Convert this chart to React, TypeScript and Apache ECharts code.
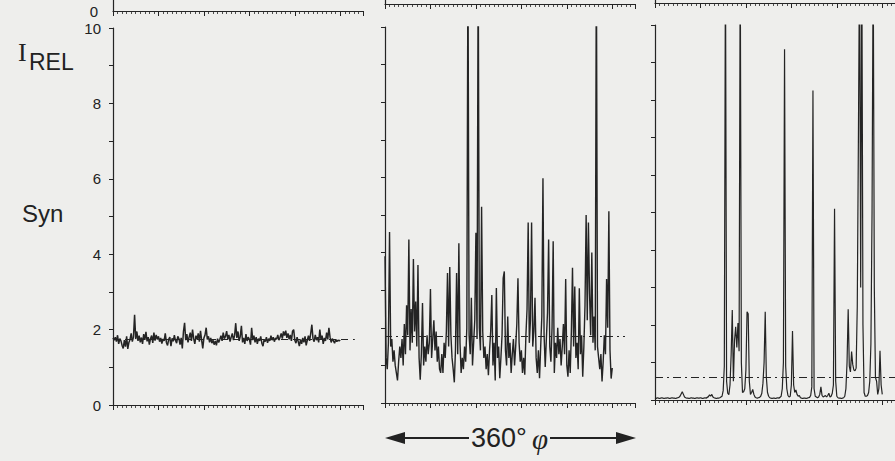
import React, { useEffect, useRef } from "react";
import * as echarts from "echarts";

// sampling step of the traces along the phi axis (axis units)
const STEP = 0.25;
const X_MAX = [55, 55, 52.8, 55, 55, 52.8];
const X_MAJOR = 10;
const Y_MAX = 10;
const Y_LABEL_STEP = 2;

// Panel 1 (left): I_REL trace
const PANEL1 = [
  1.78, 1.72, 1.80, 1.68, 1.85, 1.62, 1.76, 1.70, 1.58, 1.50,
  1.72, 1.55, 1.82, 1.49, 1.66, 1.74, 1.90, 1.68, 1.80, 2.39,
  1.75, 1.95, 1.70, 1.84, 1.66, 1.79, 1.62, 1.88, 1.73, 1.94,
  1.69, 1.80, 1.60, 1.76, 1.84, 1.65, 1.92, 1.71, 1.86, 1.74,
  1.82, 1.68, 1.78, 1.63, 1.75, 1.70, 1.90, 1.66, 1.58, 1.74,
  1.80, 1.56, 1.77, 1.69, 1.85, 1.71, 1.64, 1.82, 1.76, 1.60,
  1.78, 1.50, 1.95, 2.18, 1.72, 1.88, 1.66, 1.80, 1.92, 1.70,
  2.00, 1.76, 1.62, 1.84, 1.74, 1.90, 1.68, 1.97, 1.72, 1.50,
  1.78, 1.86, 2.05, 1.74, 1.82, 1.66, 1.78, 1.64, 1.72, 1.60,
  1.70, 1.58, 1.76, 1.66, 1.74, 1.84, 1.70, 1.92, 1.76, 1.82,
  1.96, 1.74, 1.86, 1.68, 1.80, 1.90, 1.72, 1.84, 2.17, 1.78,
  1.95, 1.70, 1.82, 2.10, 1.66, 1.78, 1.62, 1.88, 1.70, 1.80,
  1.74, 1.60, 2.05, 1.72, 1.84, 1.66, 1.80, 1.62, 1.76, 1.70,
  1.82, 1.64, 1.56, 1.74, 1.68, 1.80, 1.65, 1.76, 1.70, 1.84,
  1.72, 1.80, 1.68, 1.78, 1.74, 1.86, 1.72, 1.80, 1.90, 1.76,
  1.95, 1.84, 1.97, 1.78, 1.90, 1.74, 1.86, 1.70, 1.96, 2.00,
  1.72, 1.64, 1.80, 1.68, 1.56, 1.74, 1.62, 1.78, 1.66, 1.82,
  1.58, 1.72, 1.84, 1.70, 1.90, 2.13, 1.76, 1.68, 1.86, 1.72,
  1.80, 1.66, 2.00, 1.74, 1.84, 1.62, 1.78, 1.70, 1.92, 1.74,
  2.05, 1.80, 1.66, 1.76, 1.70, 1.64, 1.74, 1.68, 1.72, 1.70,
  1.72,
];

// Panel 2 (middle): spiky trace, values above 10 run off the top
const PANEL2 = [
  3.9, 1.2, 0.9, 1.6, 4.55, 1.5, 1.7, 1.1, 1.4, 1.0,
  0.8, 0.6, 1.1, 1.5, 1.2, 1.7, 1.0, 2.1, 1.3, 2.6,
  1.8, 4.35, 1.4, 2.5, 1.6, 3.83, 1.9, 2.7, 1.5, 3.67,
  1.2, 0.62, 1.3, 2.66, 1.0, 1.5, 1.1, 1.8, 1.3, 1.6,
  3.03, 1.2, 1.7, 2.2, 1.4, 1.9, 1.1, 1.5, 0.9, 0.8,
  1.3, 0.8, 1.6, 1.2, 1.9, 3.46, 1.5, 3.62, 1.8, 1.2,
  0.9, 0.55, 1.4, 3.46, 1.3, 4.25, 1.6, 0.8, 1.2, 0.9,
  1.5, 1.1, 2.0, 12, 1.8, 1.3, 2.8, 1.0, 1.6, 2.2,
  4.53, 1.7, 12, 2.0, 1.4, 5.22, 1.9, 1.2, 1.5, 0.9,
  1.3, 0.74, 1.4, 1.9, 2.87, 1.0, 1.6, 0.6, 3.06, 1.2,
  1.5, 0.66, 1.2, 1.8, 3.32, 3.5, 1.4, 1.0, 2.3, 1.2,
  1.6, 0.8, 1.3, 1.7, 1.0, 1.5, 2.1, 3.32, 1.6, 1.1,
  1.4, 0.8, 1.2, 0.75, 1.8, 2.5, 4.8, 1.6, 2.2, 4.8,
  1.5, 1.9, 2.8, 1.2, 0.8, 1.4, 0.66, 1.5, 2.3, 5.98,
  1.8, 0.96, 1.7, 2.4, 4.35, 1.5, 1.1, 2.0, 4.3, 0.8,
  1.6, 1.2, 2.0, 1.3, 1.7, 1.0, 1.5, 2.1, 1.3, 3.3,
  1.0, 0.7, 1.4, 0.8, 1.9, 3.6, 1.5, 3.1, 1.2, 1.6,
  0.9, 3.05, 1.3, 1.8, 0.7, 1.5, 2.6, 5.0, 2.2, 4.8,
  2.9, 1.8, 4.0, 1.6, 2.3, 1.4, 12, 1.5, 1.2, 0.9,
  1.3, 0.57, 1.1, 1.8, 1.3, 3.3, 2.0, 5.1, 1.4, 0.65,
  0.93,
];

// Panel 3 (right): low baseline with isolated peaks
const PANEL3 = [
  0.05, 0.04, 0.06, 0.05, 0.04, 0.05, 0.06, 0.05, 0.04, 0.05,
  0.05, 0.06, 0.05, 0.04, 0.05, 0.06, 0.05, 0.05, 0.04, 0.05,
  0.06, 0.07, 0.10, 0.16, 0.22, 0.15, 0.08, 0.06, 0.05, 0.05,
  0.04, 0.05, 0.06, 0.05, 0.05, 0.04, 0.05, 0.06, 0.05, 0.05,
  0.06, 0.05, 0.04, 0.05, 0.06, 0.05, 0.07, 0.09, 0.14, 0.10,
  0.15, 0.08, 0.06, 0.05, 0.04, 0.05, 0.05, 0.06, 0.08, 0.10,
  0.25, 0.90, 12, 0.50, 0.18, 0.14, 0.40, 1.20, 2.40, 0.50,
  1.60, 1.95, 1.40, 2.05, 1.30, 12, 1.00, 0.20, 0.22, 0.30,
  0.80, 2.35, 2.30, 0.50, 0.15, 0.20, 0.28, 0.15, 0.08, 0.06,
  0.05, 0.06, 0.07, 0.10, 0.18, 0.45, 1.00, 2.35, 0.60, 0.20,
  0.10, 0.06, 0.05, 0.04, 0.05, 0.05, 0.04, 0.05, 0.06, 0.05,
  0.07, 0.10, 0.30, 1.00, 9.35, 0.90, 0.30, 0.12, 0.08, 0.10,
  0.40, 1.84, 0.40, 0.20, 0.27, 0.15, 0.10, 0.12, 0.06, 0.05,
  0.04, 0.05, 0.05, 0.04, 0.05, 0.06, 0.07, 0.12, 0.35, 8.25,
  0.30, 0.10, 0.08, 0.06, 0.08, 0.15, 0.35, 0.12, 0.08, 0.10,
  0.12, 0.08, 0.12, 0.18, 0.08, 0.10, 0.18, 0.40, 5.10, 0.50,
  0.10, 0.06, 0.05, 0.05, 0.04, 0.05, 0.06, 0.10, 0.30, 1.00,
  2.42, 0.90, 0.75, 1.29, 0.95, 0.80, 0.78, 0.85, 2.50, 7.00,
  12, 3.00, 12, 2.00, 0.20, 0.10, 0.10, 0.12, 0.20, 0.50,
  1.50, 5.00, 12, 3.00, 0.60, 0.50, 0.15, 0.30, 1.31, 0.40,
  0.15,
];

// dashed reference levels, one per panel
const REF_LEVELS = [1.75, 1.78, 0.6];
const REF_END = [53.2, 52.8, 52.8];

const INK = "#242424";
const SANS = "'Liberation Sans', Arial, sans-serif";
const SERIF = "'Liberation Serif', 'Times New Roman', serif";

function toPairs(vals: number[]) {
  return vals.map((v, i) => [i * STEP, v]);
}

export default function App() {
  const ref = useRef<HTMLDivElement>(null);

  useEffect(() => {
    if (!ref.current) return;
    const chart = echarts.init(ref.current, undefined, { renderer: "svg" });

    const grids = [
      { left: 113, top: 28, width: 250, height: 377 },
      { left: 385, top: 27, width: 250, height: 376 },
      { left: 655, top: 25, width: 240, height: 375 },
      { left: 113, top: 0, width: 250, height: 11 },
      { left: 385, top: 0, width: 250, height: 4 },
      { left: 655, top: 0, width: 240, height: 3 },
    ];

    const xAxes = grids.map((_, i) => ({
      type: "value",
      gridIndex: i,
      min: 0,
      max: X_MAX[i],
      interval: X_MAJOR,
      axisLine: { show: true, lineStyle: { color: INK, width: 1.2 } },
      axisTick: { show: true, length: 5, lineStyle: { color: INK, width: 1 } },
      minorTick: { show: true, splitNumber: 10, length: 3, lineStyle: { color: INK, width: 0.8 } },
      axisLabel: { show: false },
      splitLine: { show: false },
      minorSplitLine: { show: false },
    }));

    const yAxes = grids.map((_, i) => {
      const main = i < 3;
      return {
        type: "value",
        gridIndex: i,
        min: 0,
        max: Y_MAX,
        interval: main ? Y_LABEL_STEP : Y_MAX,
        axisLine: { show: true, lineStyle: { color: INK, width: 1.2 } },
        axisTick: { show: main, length: 4, lineStyle: { color: INK, width: 1 } },
        minorTick: main
          ? { show: true, splitNumber: 2, length: 4, lineStyle: { color: INK, width: 1 } }
          : { show: false },
        axisLabel:
          i === 0
            ? { show: true, color: "#222", fontFamily: SANS, fontSize: 15, margin: 12 }
            : i === 3
            ? {
                show: true,
                color: "#222",
                fontFamily: SANS,
                fontSize: 15,
                margin: 15,
                formatter: (v: number) => (v === 0 ? "0" : ""),
              }
            : { show: false },
        splitLine: { show: false },
        minorSplitLine: { show: false },
      };
    });

    const traces = [PANEL1, PANEL2, PANEL3];
    const dashTypes: any[] = [[7, 5], [7, 4, 2, 4], [8, 4, 2, 4]];
    const widths = [1.5, 1.4, 1.2];

    const series = traces.map((vals, i) => ({
      type: "line",
      xAxisIndex: i,
      yAxisIndex: i,
      data: toPairs(vals),
      showSymbol: false,
      symbol: "none",
      clip: true,
      lineStyle: { color: INK, width: widths[i] },
      markLine: {
        silent: true,
        symbol: ["none", "none"],
        label: { show: false },
        lineStyle: { color: INK, width: 1, type: dashTypes[i] },
        data: [[{ coord: [0, REF_LEVELS[i]] }, { coord: [REF_END[i], REF_LEVELS[i]] }]],
      },
    }));

    const arrowY = 438;
    chart.setOption({
      animation: false,
      backgroundColor: "#eeeeec",
      grid: grids,
      xAxis: xAxes,
      yAxis: yAxes,
      series,
      graphic: {
        elements: [
          { type: "text", left: 18, top: 39, style: { text: "I", font: `26px ${SERIF}`, fill: "#222" } },
          { type: "text", left: 29, top: 50, style: { text: "REL", font: `23px ${SANS}`, fill: "#222" } },
          { type: "text", left: 22, top: 201, style: { text: "Syn", font: `24px ${SANS}`, fill: "#222" } },
          {
            type: "text",
            x: 471,
            y: arrowY,
            style: {
              text: "360°",
              font: `27px ${SANS}`,
              fill: "#222",
              align: "left",
              verticalAlign: "middle",
            },
          },
          {
            type: "text",
            x: 532,
            y: arrowY + 1,
            style: {
              text: "φ",
              font: `italic 29px ${SERIF}`,
              fill: "#222",
              align: "left",
              verticalAlign: "middle",
            },
          },
          { type: "line", shape: { x1: 398, y1: arrowY, x2: 469, y2: arrowY }, style: { stroke: "#222", lineWidth: 2 } },
          { type: "polygon", shape: { points: [[385, arrowY], [405, arrowY - 6], [405, arrowY + 6]] }, style: { fill: "#222" } },
          { type: "line", shape: { x1: 550, y1: arrowY, x2: 622, y2: arrowY }, style: { stroke: "#222", lineWidth: 2 } },
          { type: "polygon", shape: { points: [[636, arrowY], [616, arrowY - 6], [616, arrowY + 6]] }, style: { fill: "#222" } },
        ],
      },
    });

    return () => chart.dispose();
  }, []);

  return (
    <div
      ref={ref}
      style={{ position: "absolute", left: 0, top: 0, width: 895, height: 461 }}
    />
  );
}
